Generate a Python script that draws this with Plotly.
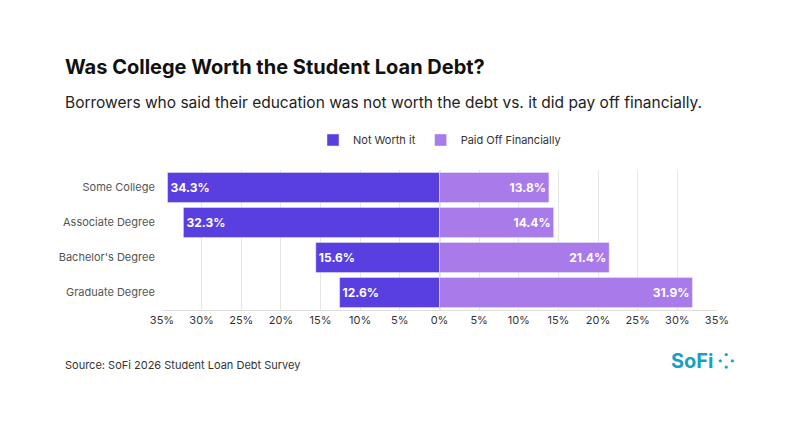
import plotly.graph_objects as go

categories = ["Some College", "Associate Degree", "Bachelor's Degree", "Graduate Degree"]
not_worth = [34.3, 32.3, 15.6, 12.6]
paid_off = [13.8, 14.4, 21.4, 31.9]
tick_vals = [-35, -30, -25, -20, -15, -10, -5, 0, 5, 10, 15, 20, 25, 30, 35]
tick_text = [f"{abs(v)}%" for v in tick_vals]

font = "Inter, Lato, sans-serif"
# page renders offset by ~7px, so positions are shifted accordingly
W, H, L, R, T, B = 794, 430, 154, 85, 162, 128
pw, ph = W - L - R, H - T - B

def px_x(x):
    return (x - 7 - L) / pw

def px_y(y):
    return (H - B - (y - 7)) / ph

fig = go.Figure()
fig.add_trace(go.Bar(
    y=categories, x=[-v for v in not_worth], orientation="h", name="Not Worth it",
    marker=dict(color="#5A3FE0"), text=[f"{v}%" for v in not_worth],
    textposition="inside", insidetextanchor="end",
    textfont=dict(color="white", size=12, family=font, weight="bold"),
))
fig.add_trace(go.Bar(
    y=categories, x=paid_off, orientation="h", name="Paid Off Financially",
    marker=dict(color="#A97BEA"), text=[f"{v}%" for v in paid_off],
    textposition="inside", insidetextanchor="end",
    textfont=dict(color="white", size=12, family=font, weight="bold"),
))

fig.update_layout(
    width=W, height=H, barmode="relative", bargap=0.14,
    paper_bgcolor="white", plot_bgcolor="white",
    font=dict(family=font, color="#333333"),
    margin=dict(l=L, r=R, t=T, b=B, autoexpand=False),
    showlegend=True,
    legend=dict(orientation="h", x=0.5, xanchor="center", y=px_y(139), yanchor="middle",
                font=dict(size=11), traceorder="normal"),
    xaxis=dict(range=[-35, 35], tickvals=tick_vals, ticktext=tick_text, automargin=False,
               showgrid=True, gridcolor="#e6e6e6", zeroline=True, zerolinecolor="#e6e6e6",
               tickfont=dict(size=11, color="#333"), showline=True, linecolor="#dddddd"),
    yaxis=dict(autorange="reversed", automargin=False, tickfont=dict(size=11, color="#555"), ticksuffix="  "),
)
fig.add_annotation(text="<b>Was College Worth the Student Loan Debt?</b>", xref="paper", yref="paper",
                   x=px_x(62), y=px_y(66), xanchor="left", yanchor="middle", showarrow=False,
                   font=dict(size=20, color="#111", family=font))
fig.add_annotation(text="Borrowers who said their education was not worth the debt vs. it did pay off financially.",
                   xref="paper", yref="paper", x=px_x(62), y=px_y(101), xanchor="left", yanchor="middle",
                   showarrow=False, font=dict(size=15.5, color="#222", family=font))
fig.add_annotation(text="Source: SoFi 2026 Student Loan Debt Survey", xref="paper", yref="paper",
                   x=px_x(62), y=px_y(364), xanchor="left", yanchor="middle", showarrow=False,
                   font=dict(size=11, color="#333", family=font))
fig.add_annotation(text="<b>SoFi ⁘</b>", xref="paper", yref="paper",
                   x=px_x(735), y=px_y(360), xanchor="right", yanchor="middle", showarrow=False,
                   font=dict(size=20, color="#1a9fc4", family=font))

fig.write_html("out.html")
